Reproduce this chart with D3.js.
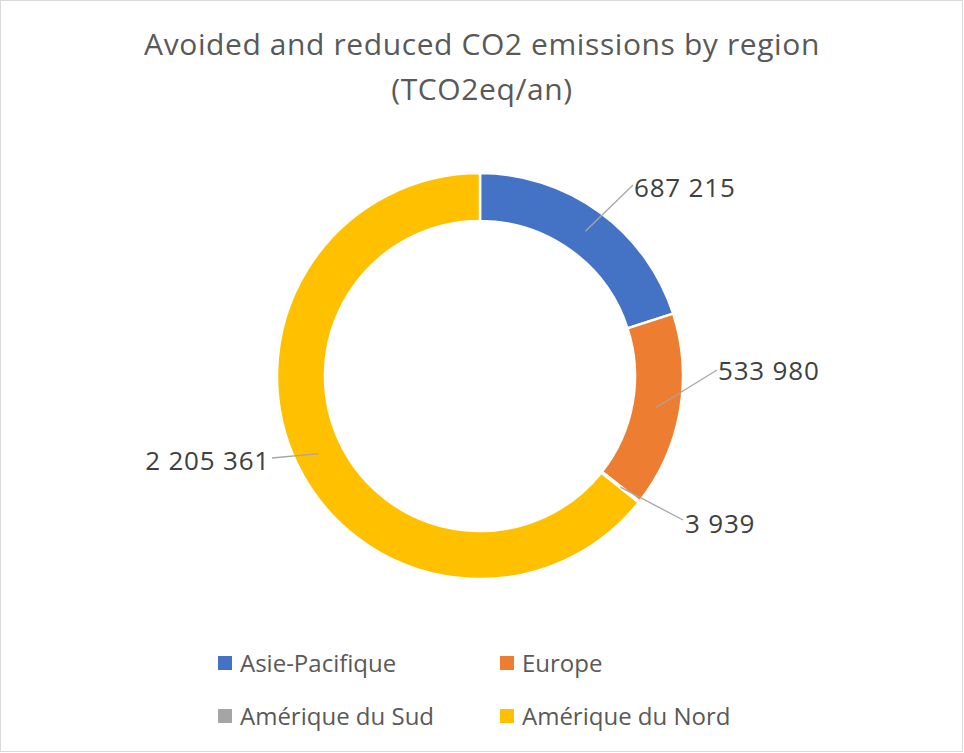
<!DOCTYPE html>
<html><head><meta charset="utf-8">
<script src="https://cdn.jsdelivr.net/npm/d3@7"></script>
<style>body{margin:0;background:#fff}</style></head>
<body><svg id="c" width="964" height="753"></svg>
<script>
const categories = ["Asie-Pacifique","Europe","Amérique du Sud","Amérique du Nord"];
const values = [687215, 533980, 3939, 2205361];
const labels = ["687 215","533 980","3 939","2 205 361"];
const colors = ["#4472C4","#ED7D31","#A5A5A5","#FFC000"];

const svg = d3.select("#c");
const font = "'Open Sans',sans-serif";
svg.append("rect").attr("x",0.5).attr("y",0.5).attr("width",962).attr("height",751)
  .attr("fill","#fff").attr("stroke","#d9d9d9");
svg.append("text").attr("x",482).attr("y",55).attr("text-anchor","middle")
  .attr("font-family",font).attr("font-size",30).attr("letter-spacing",0.6).attr("fill","#595959")
  .text("Avoided and reduced CO2 emissions by region");
svg.append("text").attr("x",482).attr("y",100).attr("text-anchor","middle")
  .attr("font-family",font).attr("font-size",30).attr("letter-spacing",0.6).attr("fill","#595959")
  .text("(TCO2eq/an)");

const cx=480, cy=376, R=203, r=155;
const pie = d3.pie().sort(null).value(d=>d)(values);
const arc = d3.arc().innerRadius(r).outerRadius(R);
const g = svg.append("g").attr("transform",`translate(${cx},${cy})`);
g.selectAll("path").data(pie).join("path").attr("d",arc)
  .attr("fill",(d,i)=>colors[i]).attr("stroke","#fff").attr("stroke-width",2.5);

const lp = [{x:154,y:-179,a:"start"},{x:238,y:4,a:"start"},{x:205,y:157,a:"start"},{x:-210,y:94,a:"end"}];
const ends = [{x:153,y:-191},{x:237,y:-6},{x:203,y:144},{x:-208,y:82}];
const mid = d3.arc().innerRadius((r+R)/2).outerRadius((r+R)/2);
pie.forEach((d,i)=>{
  const [mx,my]=mid.centroid(d);
  g.append("line").attr("x1",mx).attr("y1",my).attr("x2",ends[i].x).attr("y2",ends[i].y)
    .attr("stroke","#a6a6a6").attr("stroke-width",1.3);
  g.append("text").attr("x",lp[i].x).attr("y",lp[i].y).attr("text-anchor",lp[i].a)
    .attr("font-family",font).attr("font-size",26).attr("letter-spacing",0.8).attr("fill","#404040").text(labels[i]);
});

const leg=[{x:218,y:663},{x:500,y:663},{x:218,y:716},{x:500,y:716}];
categories.forEach((c,i)=>{
  svg.append("rect").attr("x",leg[i].x).attr("y",leg[i].y-7).attr("width",14).attr("height",14).attr("fill",colors[i]);
  svg.append("text").attr("x",leg[i].x+22).attr("y",leg[i].y+9).attr("font-family",font)
    .attr("font-size",24).attr("fill","#595959").text(c);
});
</script></body></html>
